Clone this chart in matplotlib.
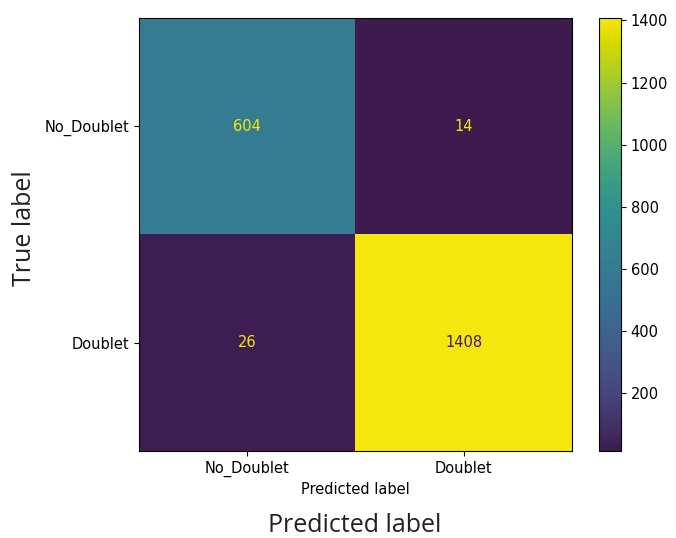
import numpy as np
import matplotlib
matplotlib.use('Agg')
import matplotlib.pyplot as plt
from matplotlib.colors import ListedColormap

# 混淆矩阵数据
class_names = ['No_Doublet', 'Doublet']
cm_values = np.array([[604, 14],
                      [26, 1408]])
cbar_ticks = [200, 400, 600, 800, 1000, 1200, 1400]


def toned_viridis():
    """viridis 做一次线性色彩校正，偏暗偏灰一些"""
    base = plt.get_cmap('viridis')
    vmin, vmax = cm_values.min(), cm_values.max()
    pos = [0.0, (604 - vmin) / (vmax - vmin), 1.0]
    src = np.array([base(p)[:3] for p in pos])
    dst = np.array([[61, 28, 79], [53, 123, 145], [245, 230, 12]]) / 255.0
    m = np.linalg.solve(src, dst)
    rgb = np.clip(base(np.linspace(0, 1, 256))[:, :3] @ m, 0, 1)
    return ListedColormap(rgb)


fig = plt.figure(figsize=(6.76, 5.38), dpi=100)
ax = fig.add_axes([139 / 676, 1 - 451 / 538, 433 / 676, 433 / 538])
cax = fig.add_axes([599 / 676, 1 - 451 / 538, 22 / 676, 433 / 538])

cmap = toned_viridis()
im = ax.imshow(cm_values, cmap=cmap, interpolation='nearest', aspect='auto')

# 单元格数值，阈值取中间值决定文字颜色
thresh = (cm_values.max() + cm_values.min()) / 2.0
for i in range(cm_values.shape[0]):
    for j in range(cm_values.shape[1]):
        color = cmap(0.0) if cm_values[i, j] > thresh else cmap(1.0)
        ax.text(j, i, str(cm_values[i, j]), ha='center', va='center',
                color=color, fontsize=10.5)

ax.set_xticks(range(len(class_names)))
ax.set_xticklabels(class_names, fontsize=10.5)
ax.set_yticks(range(len(class_names)))
ax.set_yticklabels(class_names, fontsize=10.5)
ax.set_xlabel('Predicted label', fontsize=10.5, labelpad=4)

cbar = fig.colorbar(im, cax=cax)
cbar.set_ticks(cbar_ticks)
cbar.ax.tick_params(labelsize=10.5)

# 额外的大号坐标轴标题
fig.text(355 / 676, 1 - 525 / 538, 'Predicted label', ha='center', va='center',
         fontsize=18, family='Open Sans', color='#222222')
fig.text(25 / 676, 1 - 228 / 538, 'True label', ha='center', va='center',
         rotation=90, fontsize=18, family='Open Sans', color='#222222')

fig.savefig('out.png', dpi=100)
